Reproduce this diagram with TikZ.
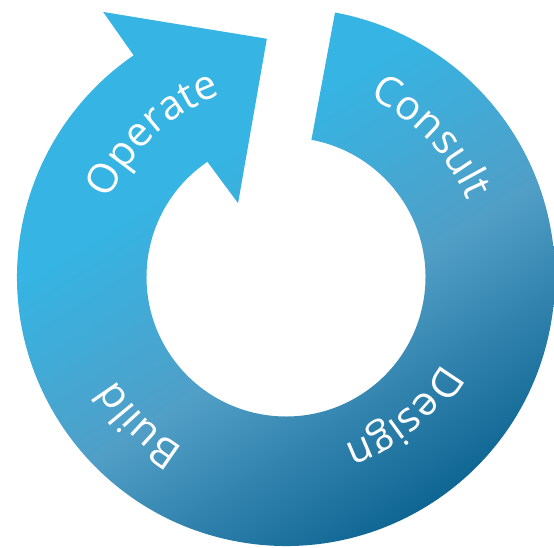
\documentclass[tikz,border=0pt]{standalone}
\usepackage{fontspec}
\setsansfont{Open Sans}
\usetikzlibrary{decorations.text}

\definecolor{ringlight}{RGB}{54,180,227}
\definecolor{ringmid}{RGB}{80,158,198}
\definecolor{ringdark}{RGB}{4,92,138}
\pgfdeclareverticalshading{ringfade}{100bp}{color(0bp)=(ringdark); color(24bp)=(ringdark); color(46bp)=(ringmid); color(63bp)=(ringlight); color(100bp)=(ringlight)}
\newcommand{\ringfont}{\sffamily\fontsize{41}{41}\selectfont}

\begin{document}
\begin{tikzpicture}[x=1pt,y=1pt,
  ring/.style={shading=ringfade, shading angle=32},
  steplabel/.style={decorate, decoration={text along path, text align=center, text color=white}}]
\useasboundingbox (-286,-271) rectangle (268,277);

% ring with arrow head
\shade[ring] (79.5:269) arc[start angle=79.5, end angle=-235.5, radius=269pt]
  -- (124.6:322) -- (94.6:239) -- (123:88) -- (124.3:139.5)
  arc[start angle=124.3, end angle=439.5, radius=139.5pt] -- cycle;

% labels
\path[steplabel, decoration={text={|\ringfont|Consult}}] (84:197) arc[start angle=84, end angle=4, radius=197pt];
\path[steplabel, decoration={text={|\ringfont|Design}}] (-10:178) arc[start angle=-10, end angle=-90, radius=178pt];
\path[steplabel, decoration={text={|\ringfont|Build}}] (-95:199) arc[start angle=-95, end angle=-175, radius=199pt];
\path[steplabel, decoration={text={|\ringfont|Operate}}] (173:193) arc[start angle=173, end angle=93, radius=193pt];
\end{tikzpicture}
\end{document}
